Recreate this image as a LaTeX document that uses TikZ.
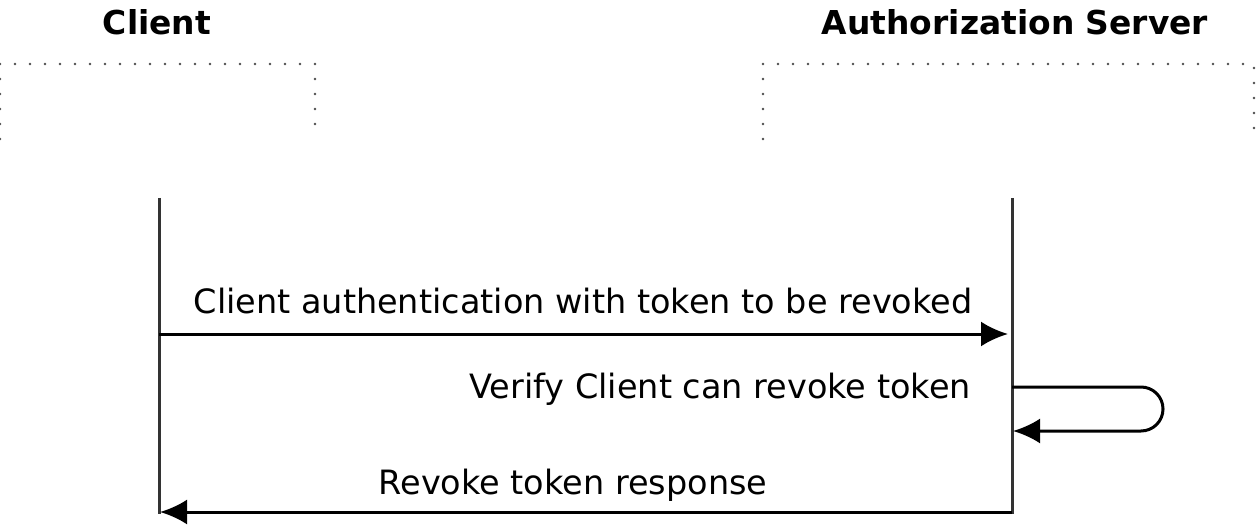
\documentclass[tikz,border=0pt]{standalone}
\usepackage{fontspec}
\setmainfont{DejaVu Sans}
\usetikzlibrary{arrows.meta, positioning}

\begin{document}
\begin{tikzpicture}[x=1pt, y=-1pt,
  >={Latex[length=27pt,width=25pt]},
  actor/.style={font=\fontsize{32.9}{38}\selectfont\bfseries, anchor=base},
  msg/.style={font=\fontsize{33.5}{40}\selectfont, anchor=base, inner sep=0pt},
  lifeline/.style={line width=3pt, draw=black!80},
  frame/.style={line width=2.8pt, draw=black!70, line cap=round, dash pattern=on 0pt off 15pt},
  call/.style={line width=3pt, ->}]
\useasboundingbox (0,0) rectangle (1257,526);

% actors
\node[actor] (client) at (157,35) {Client};
\node[actor] (server) at (1015,35) {Authorization Server};

% dotted frames
\draw[frame] (0,139) -- (0,64) -- (315,64) -- (315,128);
\draw[frame] (763,139) -- (763,64) -- (1254,64) -- (1254,128);

% lifelines
\coordinate (ctop) at (159,198);
\coordinate (cbot) at (159,514);
\coordinate (stop) at (1012,198);
\coordinate (sbot) at (1012,514);
\draw[lifeline] (ctop) -- (cbot);
\draw[lifeline] (stop) -- (sbot);

% messages
\coordinate (c1) at (159,334);
\coordinate (s1) at (1008,334);
\draw[call] (c1) -- (s1);
\node[msg] (m1) at (583,313) {Client authentication with token to be revoked};

\coordinate (s2) at (1012,387);
\coordinate (s3) at (1013,431);
\draw[call] (s2) -- (1141,387) arc[start angle=-90, end angle=90, radius=22] -- (s3);
\node[msg, anchor=base east] (m2) at (971,398) {Verify Client can revoke token};

\coordinate (s4) at (1012,512);
\coordinate (c4) at (160,512);
\draw[call] (s4) -- (c4);
\node[msg] (m3) at (573,494) {Revoke token response};
\end{tikzpicture}
\end{document}
